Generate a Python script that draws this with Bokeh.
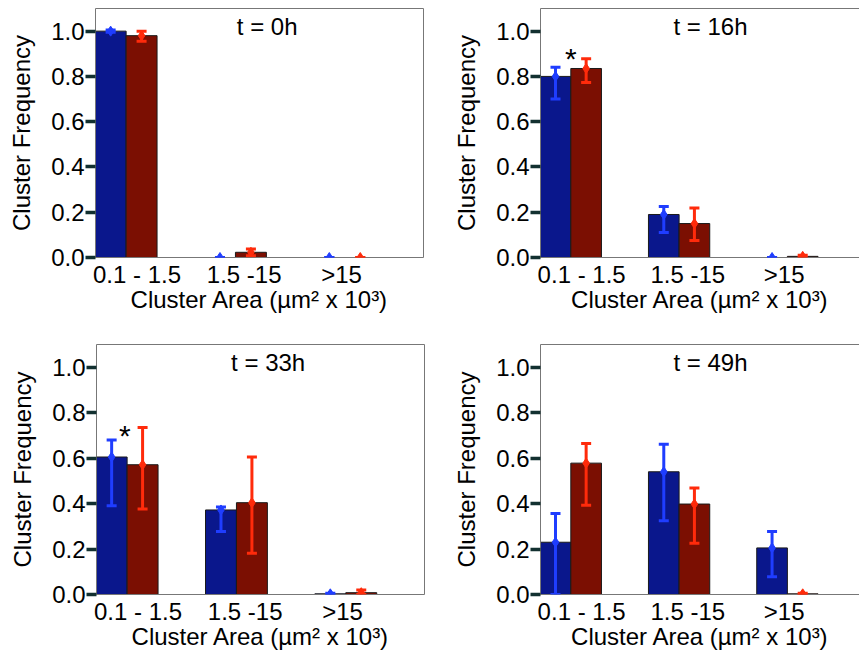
from bokeh.plotting import figure
from bokeh.models import (ColumnDataSource, Whisker, TeeHead, FixedTicker, LinearAxis,
                          Label, Range1d)
from bokeh.layouts import column, row
from bokeh.embed import file_html
from bokeh.resources import INLINE
from bokeh.core.properties import value

# ---------------- data ----------------
cats = [1, 2, 3]
categories = ["0.1 - 1.5", "1.5 -15", ">15"]
y_ticks = [0.0, 0.2, 0.4, 0.6, 0.8, 1.0]
titles = ["t = 0h", "t = 16h", "t = 33h", "t = 49h"]

# t = 0h
blue_0 = [1.0, 0.0, 0.0]
blue_0_lo = [0.995, 0.0, 0.0]
blue_0_hi = [1.005, 0.0, 0.0]
red_0 = [0.98, 0.023, 0.0]
red_0_lo = [0.955, 0.008, 0.0]
red_0_hi = [1.0, 0.038, 0.0]
star_0_x = []
star_0_y = []

# t = 16h
blue_16 = [0.80, 0.19, 0.0]
blue_16_lo = [0.70, 0.11, 0.0]
blue_16_hi = [0.84, 0.225, 0.0]
red_16 = [0.835, 0.15, 0.005]
red_16_lo = [0.773, 0.075, 0.0]
red_16_hi = [0.878, 0.219, 0.01]
star_16_x = [1.0]
star_16_y = [0.88]

# t = 33h
blue_33 = [0.605, 0.372, 0.003]
blue_33_lo = [0.39, 0.277, 0.0]
blue_33_hi = [0.68, 0.385, 0.006]
red_33 = [0.571, 0.404, 0.008]
red_33_lo = [0.376, 0.181, 0.0]
red_33_hi = [0.735, 0.605, 0.02]
star_33_x = [0.98]
star_33_y = [0.70]

# t = 49h
blue_49 = [0.23, 0.54, 0.205]
blue_49_lo = [0.0, 0.325, 0.078]
blue_49_hi = [0.356, 0.661, 0.277]
red_49 = [0.578, 0.398, 0.003]
red_49_lo = [0.393, 0.226, 0.0]
red_49_hi = [0.664, 0.469, 0.006]
star_49_x = []
star_49_y = []

# ---------------- style ----------------
FONT = "Liberation Sans"
FS = "24px"
BAR_W = 0.283
BLUE_BAR = "#0a178c"
RED_BAR = "#7b0f02"
BLUE_ERR = "#1f3dff"
RED_ERR = "#ff2b0b"
FRAME = "#777777"
TICK = "#123030"
label_shift = [0.10, 0.08, -0.03]


def make_panel(title, series, stars, width, height, borders, x_end, right_border):
    top_b, right_b, bottom_b, left_b = borders
    p = figure(width=width, height=height,
               x_range=Range1d(0.72, x_end), y_range=Range1d(0, 1.1),
               output_backend="svg", toolbar_location=None,
               min_border_top=top_b, min_border_right=right_b,
               min_border_bottom=bottom_b, min_border_left=left_b)
    p.outline_line_color = None
    p.grid.visible = False
    p.background_fill_color = "white"
    p.border_fill_color = "white"

    # y axis
    ya = p.yaxis[0]
    ya.ticker = FixedTicker(ticks=y_ticks)
    ya.major_label_overrides = {t: f"{t:.1f}" for t in y_ticks}
    ya.major_tick_out = 10
    ya.major_tick_in = 0
    ya.major_tick_line_width = 3.5
    ya.major_tick_line_color = TICK
    ya.minor_tick_line_color = None
    ya.major_label_standoff = 1
    ya.major_label_text_font = FONT
    ya.major_label_text_font_size = FS
    ya.major_label_text_color = "black"
    ya.axis_line_color = FRAME
    ya.axis_label = "Cluster Frequency"
    ya.axis_label_text_font = FONT
    ya.axis_label_text_font_size = FS
    ya.axis_label_text_font_style = "normal"
    ya.axis_label_text_color = "black"
    ya.axis_label_standoff = 13

    # x axis
    tick_pos = [c + s for c, s in zip(cats, label_shift)]
    xa = p.xaxis[0]
    xa.ticker = FixedTicker(ticks=tick_pos)
    xa.major_label_overrides = {t: lab for t, lab in zip(tick_pos, categories)}
    xa.major_tick_line_color = None
    xa.major_tick_out = 0
    xa.major_tick_in = 0
    xa.minor_tick_line_color = None
    xa.major_label_standoff = 3
    xa.major_label_text_font = FONT
    xa.major_label_text_font_size = FS
    xa.major_label_text_color = "black"
    xa.axis_line_color = FRAME
    xa.axis_label = "Cluster Area (\u00b5m\u00b2 x 10\u00b3)"
    xa.axis_label_text_font = FONT
    xa.axis_label_text_font_size = FS
    xa.axis_label_text_font_style = "normal"
    xa.axis_label_text_color = "black"
    xa.axis_label_standoff = -5

    def border_axis():
        return LinearAxis(ticker=FixedTicker(ticks=[]), major_label_text_font_size="0px",
                          major_tick_out=0, major_tick_in=0, minor_tick_out=0,
                          minor_tick_in=0, major_label_standoff=0,
                          axis_line_color=FRAME)

    p.add_layout(border_axis(), "above")
    if right_border:
        p.add_layout(border_axis(), "right")

    (b, b_lo, b_hi, r, r_lo, r_hi) = series
    for vals, lo, hi, sign, fill, ecol in [(b, b_lo, b_hi, -1, BLUE_BAR, BLUE_ERR),
                                           (r, r_lo, r_hi, 1, RED_BAR, RED_ERR)]:
        xs = [c + sign * BAR_W / 2 for c in cats]
        src = ColumnDataSource(dict(x=xs, top=vals, lo=lo, hi=hi))
        p.vbar(x="x", top="top", bottom=0, width=BAR_W, source=src,
               fill_color=fill, line_color="#1a1a1a", line_width=1)
        p.scatter(x="x", y="top", source=src, marker="diamond", size=10,
                  fill_color=ecol, line_color=ecol)
        p.add_layout(Whisker(source=src, base="x", lower="lo", upper="hi",
                             level="overlay",
                             line_color=ecol, line_width=3,
                             lower_head=TeeHead(size=10, line_color=ecol, line_width=3),
                             upper_head=TeeHead(size=10, line_color=ecol, line_width=3)))

    sx, sy = stars
    if sx:
        p.text(x=sx, y=sy, text=["*"] * len(sx), text_font=value(FONT),
               text_font_size="30px", text_align="center", text_baseline="middle",
               text_color="black")

    p.add_layout(Label(x=2.29, y=1.02, text=title, text_align="center",
                       text_baseline="middle", text_font=FONT,
                       text_font_size=FS, text_color="black"))
    return p


p1 = make_panel(titles[0], (blue_0, blue_0_lo, blue_0_hi, red_0, red_0_lo, red_0_hi),
                (star_0_x, star_0_y), 450, 336, (6, 27, 79, 95), 3.72, True)
p2 = make_panel(titles[1], (blue_16, blue_16_lo, blue_16_hi, red_16, red_16_lo, red_16_hi),
                (star_16_x, star_16_y), 409, 336, (8, 0, 79, 87), 3.666, False)
p3 = make_panel(titles[2], (blue_33, blue_33_lo, blue_33_hi, red_33, red_33_lo, red_33_hi),
                (star_33_x, star_33_y), 450, 317, (8, 26, 59, 96), 3.72, True)
p4 = make_panel(titles[3], (blue_49, blue_49_lo, blue_49_hi, red_49, red_49_lo, red_49_hi),
                (star_49_x, star_49_y), 409, 317, (8, 0, 59, 87), 3.666, False)

layout = column(row(p1, p2), row(p3, p4))

open("out.html", "w").write(file_html(layout, INLINE, title="Cluster Frequency"))
